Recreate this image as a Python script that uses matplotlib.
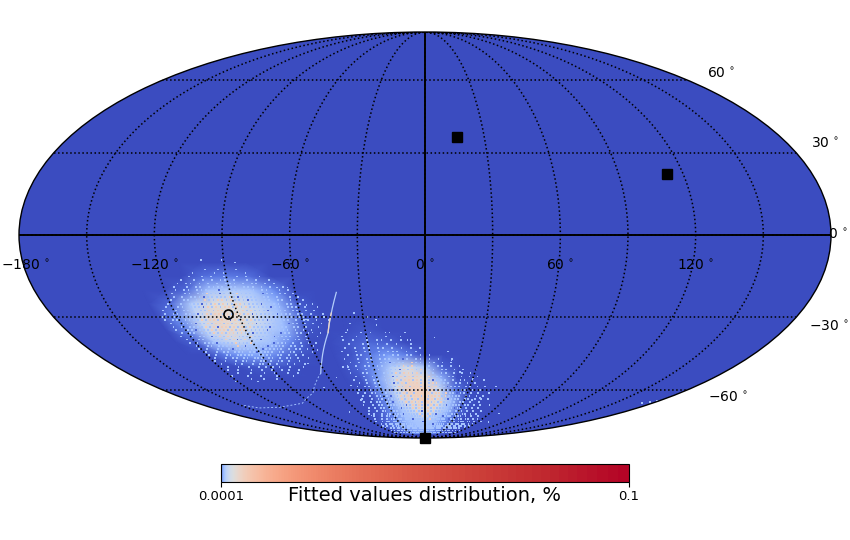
import numpy as np
import matplotlib
matplotlib.use("Agg")
import matplotlib.pyplot as plt
from matplotlib.colors import LogNorm

# fitted values map, mollweide
lon_nodes = [-130, -120, -110, -100, -90, -80, -70, -60, -50, -40, -30, -20, -10, 0, 10, 20, 30, 40, 50]
lat_nodes = [-10, -15, -20, -25, -30, -35, -40, -45, -50, -55, -60, -65, -70, -75, -80, -85]
e = 0.0001
density = [
    [e, e, e, e, e, e, e, e, e, e, e, e, e, e, e, e, e, e, e],
    [e, e, e, .00018, .00022, .00018, e, e, e, e, e, e, e, e, e, e, e, e, e],
    [e, e, .00016, .0009, .0012, .0009, .0003, e, e, e, e, e, e, e, e, e, e, e, e],
    [e, .00016, .0012, .003, .003, .0016, .0007, .00013, e, e, e, e, e, e, e, e, e, e, e],
    [e, .0003, .0018, .0045, .0035, .002, .0009, .00016, e, e, e, e, e, e, e, e, e, e, e],
    [e, .00025, .0018, .004, .0025, .0014, .0007, .00012, e, e, .00012, e, e, e, e, e, e, e, e],
    [e, .00014, .0009, .0018, .0012, .0008, .00025, e, e, .00012, .00016, .00014, e, e, e, e, e, e, e],
    [e, e, .00022, .0004, .0005, .00022, .00012, e, e, .00012, .00022, .0004, .00022, e, e, e, e, e, e],
    [e, e, e, .00012, .00012, .00011, e, e, e, .00014, .0003, .0012, .0025, .001, .00014, e, e, e, e],
    [e, e, e, e, e, e, e, e, e, .00012, .0004, .0018, .0045, .0035, .0007, .00011, e, e, e],
    [e, e, e, e, e, e, e, e, e, .00011, .0004, .002, .0055, .0055, .002, .00022, e, e, e],
    [e, e, e, e, e, e, e, e, e, e, .0003, .0015, .004, .0055, .003, .0008, .00012, e, e],
    [e, e, e, e, e, e, e, e, e, .00012, .0003, .001, .002, .003, .002, .0008, .00016, e, e],
    [e, e, e, e, e, e, e, e, .00011, .00016, .0003, .0008, .001, .0012, .001, .0004, .00016, e, e],
    [e, e, e, e, e, e, e, .00011, .00014, .00022, .0004, .0007, .0008, .0008, .0007, .0003, .00016, .00012, e],
    [e, e, e, e, e, e, e, .00011, .00012, .00016, .00022, .0003, .0003, .0003, .0003, .00022, .00016, .00012, .00011],
]

# pixel texture of the clouds, one string per latitude, one char per longitude step
# . pale pixel, # blue pixel, + peach pixel
speck_levels = {".": 0.0009, "#": 0.00015, "+": 0.006}
west_lon0 = -135
west_dlon = 2
west_lat0 = -12.5
west_dlat = -1.25
west_rows = [
    "                  .  .   .                    ",
    "               .    . .    .                  ",
    "              .  . .  .  . .  .                ",
    "            .  . . . .. .  . .  .              ",
    "           . .. . . . ... . .. . .             ",
    "          .  . .. .... .. ... . .  .           ",
    "          . .. ... .#..... .. ..  . .          ",
    "         .  .. ..+..#...+.... #.. .. .         ",
    "         . . ...#.....+.#.... .. .  . .        ",
    "        .  .. ..+..++.+...#..... .. .  .       ",
    "       .  . ...#..+.+..++....#.... .. .  .     ",
    "      .  .. ...#+.+.++.+.+.....#.. ... .  .    ",
    "     .  . ... ..+.++#+.++.+...#.... .. . .     ",
    "     . .. ...#.+.++.+.++.+#.....#... .. .  .   ",
    "    .  . ..#...+++.+.++.+......#.... ..  . .   ",
    "    . .. ....+.++.++#+.+.+...#..... . .. .  .  ",
    "     .  ...#..+.++.+.+++.+#...... #.. . . .    ",
    "     . . ....+.+#++.+.+.+....#.... .. .  .     ",
    "     .  ..#...+.++.+.++.....#..... . . .       ",
    "      . .. ...+.+.++.+..#..... #.. .. .  .     ",
    "     .  . ...#.+.+.+...+.....#.... . .  .      ",
    "      .  .. ....+.+#.+...#.... .. .. .         ",
    "      . . ...#....+...+.....#... . . . .       ",
    "       .  .. .....+.#.....#.... .. .  .        ",
    "       . .  .. .#.......#..... . .. .          ",
    "        .  . .. ... ..#.... .. .. .  .         ",
    "        . .  .. ..... .... .. . . .            ",
    "         .  . .. .. ... .. . .. .  .           ",
    "        .  .  . .. . .. . .. .  .              ",
    "         .   . .  . .. . .  . .  .             ",
    "          .  .  .  . . . .  .   .              ",
    "         .  .   .  .  .  . .  .                ",
    "           .   .   .  .   .  .                  ",
    "        .    .   .    .    .                   ",
    "             .   .   .                         ",
    "       .      .                                ",
]
south_lon0 = -60
south_dlon = 2.5
south_lat0 = -36
south_dlat = -1.5
south_rows = [
    "        .  . .  .   .                              ",
    "       .  . .   .  .    .                         ",
    "       . .  . .. . . .                             ",
    "        .  .. . . .  .  .                         ",
    "       . . .. .. . . . .                           ",
    "      .  . .. . ... . . .    .                    ",
    "       . .. . .. .. .. . .                         ",
    "      .  . .. ... .#. .. . .  .                   ",
    "       . . .. ..#... +.. .. . .                    ",
    "      . . .. .. ...+.+. .. .. . .                 ",
    "      . . . .. ...#+.+.+... .. . .  .              ",
    "      .  .. . ...+.++.+.#.. .. . . .              ",
    "       . . .. ..#.+.+.++.+... .. . . .             ",
    "      .  . .. ...+.++.+.+.#... . .. .  .           ",
    "       . . .. ..#.+.+++.+.++... .. . .             ",
    "      . .. .. ...+.+.++.+.++..#... .. . .  .       ",
    "      .  . .. .#.+.++.+++.+.+.... .. . .           ",
    "     . . .. .. ...+.+.++.+.++.+..#.. . .  .        ",
    "      . . .. .#..+.+.++.+.+++.+.... .. . .         ",
    "     .  . .. ....+.+.+.++.+.++.#... .. . . .       ",
    "     . . .. ..#...+.+.+.++.+.+.... .. .  .         ",
    "    .  . .. ......#.+.+.+.+.+..#.... .. . .  .     ",
    "     . . .. .. .#...+.+.++.+.... .#.. . . .        ",
    "    .  . .. ... .....+.#.+.+...... ... . .  .      ",
    "   . .  . .. ...#.....+.+.+.#.... ... .. . .       ",
    "    .  . .. .. ... ....+.+.....#... ... . .  .     ",
    "   .  . . .. .. ...#......+...... #.. .. .. . .    ",
    "  .  . .. .. ... ..... #.......... ... ... .. .  .",
    "   . . .. .. ... .. ...... .#..... ... .. .. . .   ",
    "  . .  . .. .. ... ... ..... ..... ... .. .. . .  ",
    " .  . . .. .. .. ... ... ..... ... .. .. .. .  .  ",
    "  . . .. . .. .. .. ... ... ... ... .. .. . .  .  ",
    " . .  . . .. . .. .. .. ... .. .. .. .. . . .  .  ",
]

# stray pixels outside of the two clouds
speck_lon = [-100, -91, -85, -68, -63, -56, -53, -52, -57, -58, -48, -43, -39, -58, -67, -68, -55, -37, -34,
             -28, -24, -24, -18, -9, 5, 15, 21, 30, 41, 69, 73, 36, -45, -49, -49, -68, -52, 172, 176, 179]
speck_lat = [-9, -9, -10, -19, -19, -25.5, -25, -30, -36, -43, -50, -42, -35, -31, -48.5, -59, -54.5, -32.5, -28.5,
             -30, -31, -33, -36, -39, -38, -47, -52, -55, -64, -72, -77, -65, -50, -58, -65, -71, -73, -66.5, -66, -65.5]
speck_value = 0.0009

# thin arc of values left of the south cloud
arc_lon = [-41, -45, -49, -58, -63]
arc_lat = [-20.8, -28.5, -36, -47, -52.5]
arc_core_lon = [-45, -47, -49]
arc_core_lat = [-28.5, -32, -36]
tail_lon = [-63, -79, -97, -120, -140, -149]
tail_lat = [-52.5, -61.5, -66.5, -68.5, -69, -67.5]

# sources
square_lon = [16.2, 112.5, 0]
square_lat = [36.1, 22.1, -90]
circle_lon = [-94.8]
circle_lat = [-28.9]

lon_ticks = [-180, -120, -60, 0, 60, 120]
lat_ticks = [60, 30, 0, -30, -60]
lat_offsets = [(33, 6), (29, 9), (7, 0), (33, -10), (40, -8)]

vmin = 0.0001
vmax = 0.1
cmap = plt.get_cmap("coolwarm")
norm = LogNorm(vmin=vmin, vmax=vmax)

fig = plt.figure(figsize=(8.5, 5.4), dpi=100)
ax = fig.add_axes([19 / 850, 102 / 540, 812 / 850, 406 / 540], projection="mollweide")
ax.set_facecolor(cmap(0.0))

X, Y = np.meshgrid(np.radians(lon_nodes), np.radians(lat_nodes))
mesh = ax.pcolormesh(X, Y, np.array(density), cmap=cmap, norm=norm, shading="gouraud", zorder=1)


def draw_rows(rows, lon0, dlon, lat0, dlat):
    lons, lats, vals = [], [], []
    for r, row in enumerate(rows):
        for i, ch in enumerate(row):
            if ch in speck_levels:
                lons.append(lon0 + i * dlon)
                lats.append(lat0 + r * dlat)
                vals.append(speck_levels[ch])
    ax.scatter(np.radians(lons), np.radians(lats), c=vals, cmap=cmap, norm=norm,
               marker="s", s=1.6, linewidths=0, zorder=2)


draw_rows(west_rows, west_lon0, west_dlon, west_lat0, west_dlat)
draw_rows(south_rows, south_lon0, south_dlon, south_lat0, south_dlat)

ax.scatter(np.radians(speck_lon), np.radians(speck_lat), c=[speck_value] * len(speck_lon), cmap=cmap, norm=norm,
           marker="s", s=1.2, linewidths=0, zorder=2)
ax.plot(np.radians(arc_lon), np.radians(arc_lat), color=cmap(norm(0.0012)), lw=0.9, zorder=2)
ax.plot(np.radians(arc_core_lon), np.radians(arc_core_lat), color=cmap(norm(0.005)), lw=0.9, zorder=2)
ax.plot(np.radians(tail_lon), np.radians(tail_lat), color=cmap(norm(0.0008)), lw=0.7, ls=(0, (2, 2)), zorder=2)

ax.set_longitude_grid(30)
ax.set_latitude_grid(30)
ax.set_longitude_grid_ends(90)
ax.grid(True, color="black", ls=":", lw=1.1, zorder=3)
ax.set_axisbelow(False)
ax.set_xticklabels([])
ax.set_yticklabels([])

ax.plot(np.radians([-180, 180]), [0, 0], color="black", lw=1.4, zorder=4)
ax.plot([0, 0], np.radians([-90, 90]), color="black", lw=1.4, zorder=4)

ax.plot(np.radians(square_lon), np.radians(square_lat), "s", color="black", ms=6.6, clip_on=False, zorder=5)
ax.plot(np.radians(circle_lon), np.radians(circle_lat), "o", mfc="none", mec="black", mew=1.2, ms=6.5, zorder=5)

for lon in lon_ticks:
    # the -180 label sits on the figure edge
    dx = 6 if lon == -180 else 0
    ax.annotate("$%d\\,^\\circ$" % lon, xy=(np.radians(lon), 0), xytext=(dx, -31), textcoords="offset pixels",
                ha="center", va="center", fontsize=10, annotation_clip=False)
for lat, off in zip(lat_ticks, lat_offsets):
    ax.annotate("$%d\\,^\\circ$" % lat, xy=(np.pi, np.radians(lat)), xytext=off, textcoords="offset pixels",
                ha="center", va="center", fontsize=10, annotation_clip=False)

for sp in ax.spines.values():
    sp.set_linewidth(1.0)

# log colours on a linear bar
cax = fig.add_axes([221 / 850, 58 / 540, 408 / 850, 18 / 540])
cb = fig.colorbar(mesh, cax=cax, orientation="horizontal")
cax.set_xscale("linear")
cax.set_xlim(vmin, vmax)
cb.set_ticks([vmin, vmax])
cb.set_ticklabels(["0.0001", "0.1"])
cax.minorticks_off()
cb.ax.tick_params(labelsize=9.5, pad=2)
cb.set_label("Fitted values distribution, %", fontsize=14, labelpad=-12)

fig.savefig("out.png", dpi=100)
